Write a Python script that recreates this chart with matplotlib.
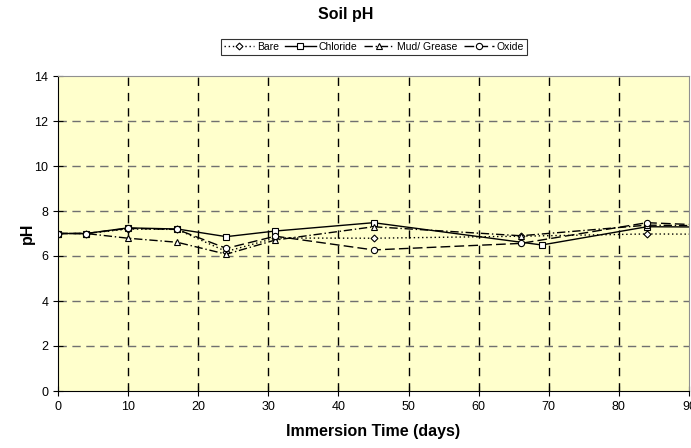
import numpy as np
import matplotlib
matplotlib.use("Agg")
import matplotlib.pyplot as plt

plt.rcParams['font.family'] = ['Liberation Sans', 'DejaVu Sans']

# days of immersion (last point lies beyond the 90-day axis and is clipped)
days_bare = [0, 4, 10, 17, 24, 31, 45, 66, 84, 98]
ph_bare = [7.0, 7.0, 7.2, 7.18, 6.2, 6.8, 6.79, 6.88, 6.98, 6.96]

days_chloride = [0, 4, 10, 17, 24, 31, 45, 69, 84, 98]
ph_chloride = [7.0, 7.0, 7.25, 7.2, 6.86, 7.11, 7.48, 6.49, 7.3, 7.28]

days_mud = [0, 4, 10, 17, 24, 31, 45, 66, 84, 98]
ph_mud = [7.0, 7.0, 6.79, 6.61, 6.08, 6.71, 7.30, 6.90, 7.37, 7.33]

days_oxide = [0, 4, 10, 17, 24, 31, 45, 66, 84, 98]
ph_oxide = [7.0, 7.0, 7.23, 7.18, 6.34, 6.88, 6.27, 6.56, 7.48, 7.3]

fig = plt.figure(figsize=(6.91, 4.48), dpi=100)
ax = fig.add_axes([58 / 691, 1 - 391 / 448, (689 - 58) / 691, (391 - 76) / 448])
ax.set_facecolor("#FFFFCC")

mk = dict(color="black", markerfacecolor="white", markeredgecolor="black",
          markeredgewidth=0.8, linewidth=1.0, clip_on=True)
ax.plot(days_bare, ph_bare, linestyle=(0, (1, 2)), marker="D", markersize=3.5, label="Bare", **mk)
ax.plot(days_chloride, ph_chloride, linestyle="-", marker="s", markersize=4.5, label="Chloride", **mk)
ax.plot(days_mud, ph_mud, linestyle=(0, (6, 2, 1, 2)), marker="^", markersize=4.5, label="Mud/ Grease", **mk)
ax.plot(days_oxide, ph_oxide, linestyle=(0, (7, 3)), marker="o", markersize=4.5, label="Oxide", **mk)

ax.set_xlim(0, 90)
ax.set_ylim(0, 14)
ax.set_xticks(np.arange(0, 91, 10))
ax.set_yticks(np.arange(0, 15, 2))

for y in range(2, 14, 2):
    ax.axhline(y, color="#707070", linestyle=(0, (6, 4)), linewidth=1.0, zorder=0.5)
for x in range(10, 90, 10):
    ax.axvline(x, color="black", linestyle=(0, (6, 5)), linewidth=1.0, zorder=0.5)

ax.spines["left"].set_color("black")
ax.spines["bottom"].set_color("black")
ax.spines["top"].set_color("#909090")
ax.spines["right"].set_color("#909090")
ax.tick_params(direction="inout", length=7, width=0.8, labelsize=9)

ax.set_xlabel("Immersion Time (days)", fontsize=11.5, fontweight="bold", labelpad=8)
ax.set_ylabel("pH", fontsize=11.5, fontweight="bold")
ax.yaxis.set_label_coords(-23 / 631, 0.5)
fig.text(0.5, 1 - 15 / 448, "Soil pH", ha="center", va="center", fontsize=11.5, fontweight="bold")

leg = fig.legend(loc="center", bbox_to_anchor=(374 / 691, 1 - 47 / 448), ncol=4,
                 fontsize=7.5, handlelength=2.9, handletextpad=0.3, columnspacing=0.6,
                 frameon=True, fancybox=False, borderpad=0.25, edgecolor="black")
leg.get_frame().set_linewidth(0.8)

fig.savefig("out.png", dpi=100)
